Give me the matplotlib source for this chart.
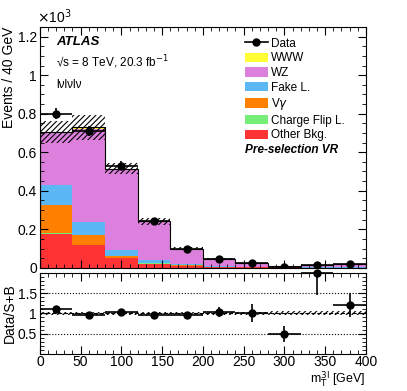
import numpy as np
import matplotlib
matplotlib.use("Agg")
import matplotlib.pyplot as plt
from matplotlib.patches import Patch
from matplotlib.lines import Line2D
from matplotlib.ticker import MultipleLocator

plt.rcParams['font.family'] = ['Liberation Sans', 'DejaVu Sans']
plt.rcParams['hatch.linewidth'] = 0.8

# bins of m_T^3l in GeV, yields in units of 10^3 events
bin_edges = np.arange(0, 440, 40)
bin_centres = bin_edges[:-1] + 20

other_bkg = [0.178, 0.117, 0.050, 0.022, 0.010, 0.005, 0.003, 0.002, 0.001, 0.001]
charge_flip = [0.002, 0.002, 0.001, 0.001, 0.0005, 0.0, 0.0, 0.0, 0.0, 0.0]
vgamma = [0.148, 0.049, 0.009, 0.004, 0.002, 0.001, 0.0005, 0.0, 0.0, 0.0]
fake = [0.104, 0.069, 0.032, 0.016, 0.007, 0.003, 0.002, 0.001, 0.001, 0.001]
wz = [0.268, 0.485, 0.418, 0.196, 0.078, 0.036, 0.017, 0.006, 0.012, 0.016]
www = [0.005, 0.008, 0.005, 0.003, 0.002, 0.001, 0.001, 0.001, 0.001, 0.001]
mc_unc = [0.055, 0.065, 0.030, 0.018, 0.007, 0.004, 0.002, 0.001, 0.0015, 0.002]

data = [0.800, 0.712, 0.530, 0.243, 0.099, 0.047, 0.023, 0.005, 0.015, 0.018]

ratio = [1.12, 0.97, 1.03, 0.97, 0.97, 1.03, 1.01, 0.50, 1.99, 1.21]
ratio_err_lo = [0.03, 0.03, 0.03, 0.04, 0.06, 0.12, 0.22, 0.20, 0.54, 0.30]
ratio_err_hi = [0.03, 0.03, 0.03, 0.04, 0.06, 0.12, 0.22, 0.20, 0.01, 0.30]
ratio_unc = [0.08, 0.09, 0.06, 0.07, 0.07, 0.08, 0.08, 0.10, 0.10, 0.10]

samples = [
    ('Other Bkg.', other_bkg, '#ff3333'),
    ('Charge Flip L.', charge_flip, '#77ee77'),
    ('V$\\gamma$', vgamma, '#ff7f00'),
    ('Fake L.', fake, '#5cb8f5'),
    ('WZ', wz, '#dd7fdd'),
    ('WWW', www, '#ffff33'),
]

fig = plt.figure(figsize=(4.07, 3.91), dpi=100)
ax = fig.add_axes([0.098, 0.315, 0.801, 0.616])
rax = fig.add_axes([0.098, 0.095, 0.801, 0.207])

bottom = np.zeros(len(bin_centres))
for name, vals, col in samples:
    ax.bar(bin_centres, vals, width=40, bottom=bottom, color=col, linewidth=0)
    bottom = bottom + np.array(vals)
total = bottom

# outline of total and hatched uncertainty
ax.stairs(total, bin_edges, color='black', linewidth=0.8)
ax.bar(bin_centres, 2 * np.array(mc_unc), width=40, bottom=total - np.array(mc_unc),
       fill=False, hatch='//////', edgecolor='black', linewidth=0)

ax.errorbar(bin_centres, data, xerr=20, yerr=np.sqrt(np.array(data) * 1000) / 1000,
            fmt='o', color='black', markersize=5, elinewidth=1.2, capsize=0)

ax.set_xlim(0, 400)
ax.set_ylim(0, 1.25)
ax.set_xticklabels([])
ax.set_ylabel('Events / 40 GeV', fontsize=10, loc='top', labelpad=1)
ax.text(-0.01, 1.005, '$\\times$10$^3$', transform=ax.transAxes, fontsize=10, ha='left', va='bottom')

ax.text(0.05, 0.938, 'ATLAS', transform=ax.transAxes, fontsize=9.5, fontweight='bold',
        style='italic', va='center')
ax.text(0.05, 0.855, '\u221as = 8 TeV, 20.3 fb$^{-1}$', transform=ax.transAxes, fontsize=8.5,
        va='center')
ax.text(0.05, 0.76, 'l\u03bdl\u03bdl\u03bd', transform=ax.transAxes, fontsize=8.5, va='center')
ax.text(0.63, 0.49, 'Pre-selection VR', transform=ax.transAxes, fontsize=8.5,
        fontweight='bold', style='italic', va='center')

handles = [Line2D([], [], color='black', marker='o', markersize=5, linewidth=1.2)]
labels = ['Data']
for name, vals, col in samples[::-1]:
    handles.append(Patch(facecolor=col, edgecolor='none'))
    labels.append(name)
ax.legend(handles, labels, loc='upper left', bbox_to_anchor=(0.63, 0.955), frameon=False,
          fontsize=8.5, handlelength=1.9, handleheight=0.85, labelspacing=0.22,
          handletextpad=0.25, borderaxespad=0, borderpad=0)

# ratio panel
for y in [0.5, 1.5]:
    rax.axhline(y, color='black', linestyle=':', linewidth=0.8)
rax.axhline(1.0, color='black', linestyle='--', linewidth=0.8)
rax.bar(bin_centres, np.array(ratio_unc), width=40, bottom=1 - np.array(ratio_unc) / 2,
        fill=False, hatch='//////', edgecolor='black', linewidth=0)
rax.errorbar(bin_centres, ratio, xerr=20, yerr=[ratio_err_lo, ratio_err_hi], fmt='o', color='black',
             markersize=5, elinewidth=1.2, capsize=0, clip_on=False)
rax.set_xlim(0, 400)
rax.set_ylim(0, 2)
rax.set_yticks([0.5, 1, 1.5])
rax.set_yticklabels(['0.5', '1', '1.5'])
rax.set_ylabel('Data/S+B', fontsize=10, labelpad=1)
rax.set_xlabel('m$_{\\mathrm{T}}^{3\\mathrm{l}}$ [GeV]', fontsize=9, ha='right')
rax.xaxis.set_label_coords(1.0, -0.19)

for a in (ax, rax):
    a.xaxis.set_major_locator(MultipleLocator(50))
    a.xaxis.set_minor_locator(MultipleLocator(10))
    a.tick_params(which='both', direction='in', top=True, right=True, labelsize=10, pad=2)
    a.tick_params(which='major', length=6)
    a.tick_params(which='minor', length=3)
rax.tick_params(axis='x', pad=1)
ax.yaxis.set_major_locator(MultipleLocator(0.2))
ax.yaxis.set_minor_locator(MultipleLocator(0.05))
ax.set_yticks(np.arange(0, 1.21, 0.2))
ax.set_yticklabels(['0', '0.2', '0.4', '0.6', '0.8', '1', '1.2'])
rax.yaxis.set_minor_locator(MultipleLocator(0.1))

fig.savefig('out.png', dpi=100)
